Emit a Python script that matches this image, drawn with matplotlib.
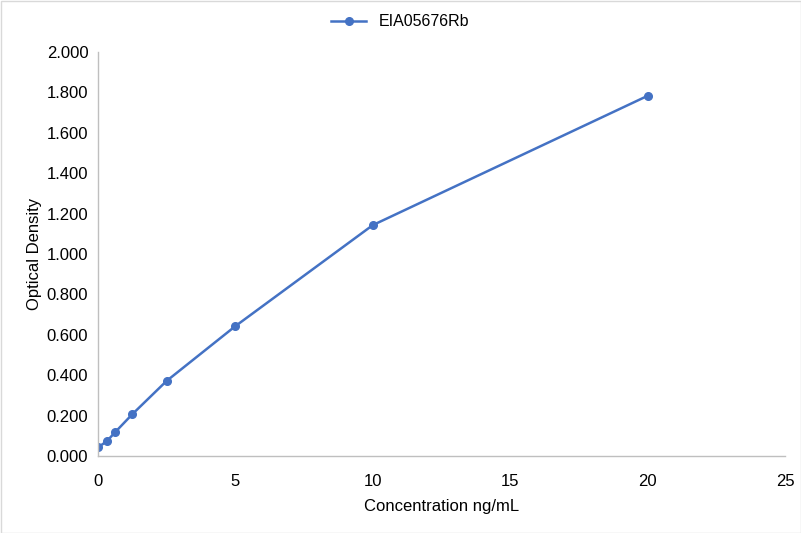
import matplotlib
matplotlib.use("Agg")
from matplotlib import pyplot as plt

conc = [0, 0.313, 0.625, 1.25, 2.5, 5, 10, 20]
od = [0.043, 0.072, 0.118, 0.207, 0.372, 0.643, 1.143, 1.783]
series_name = "EIA05676Rb"

plt.rcParams['font.family'] = ['Liberation Sans', 'DejaVu Sans']

fig = plt.figure(figsize=(8.01, 5.33), dpi=100)
ax = fig.add_axes([98/801, 1-456/533, (785-98)/801, (456-52)/533])
ax.plot(conc, od, color="#4472C4", marker="o", markersize=5.5, linewidth=1.8, label=series_name)

ax.set_xlim(0, 25)
ax.set_ylim(0, 2.0)
ax.set_xticks([0, 5, 10, 15, 20, 25])
ax.set_yticks([i * 0.2 for i in range(11)])
ax.set_yticklabels([f"{i * 0.2:.3f}" for i in range(11)])
ax.tick_params(labelsize=12, labelcolor="#000000", length=0)
ax.tick_params(axis='x', pad=13)
ax.tick_params(axis='y', pad=7)
for s in ["top", "right"]:
    ax.spines[s].set_visible(False)
for s in ["left", "bottom"]:
    ax.spines[s].set_color("#BFBFBF")
    ax.spines[s].set_linewidth(1)

ax.set_xlabel("Concentration ng/mL", fontsize=12, color="#000000", labelpad=7)
ax.set_ylabel("Optical Density", fontsize=12, color="#000000", labelpad=3)

fig.legend(loc="upper center", bbox_to_anchor=(0.5, 1.0), frameon=False, fontsize=11.5,
           labelcolor="#000000", handlelength=2.2)

border = plt.Rectangle((0.5/801, 0.5/533), 1-1/801, 1-1/533, transform=fig.transFigure,
                       fill=False, edgecolor="#D9D9D9", linewidth=1)
fig.patches.append(border)

fig.savefig("out.png", dpi=100)
